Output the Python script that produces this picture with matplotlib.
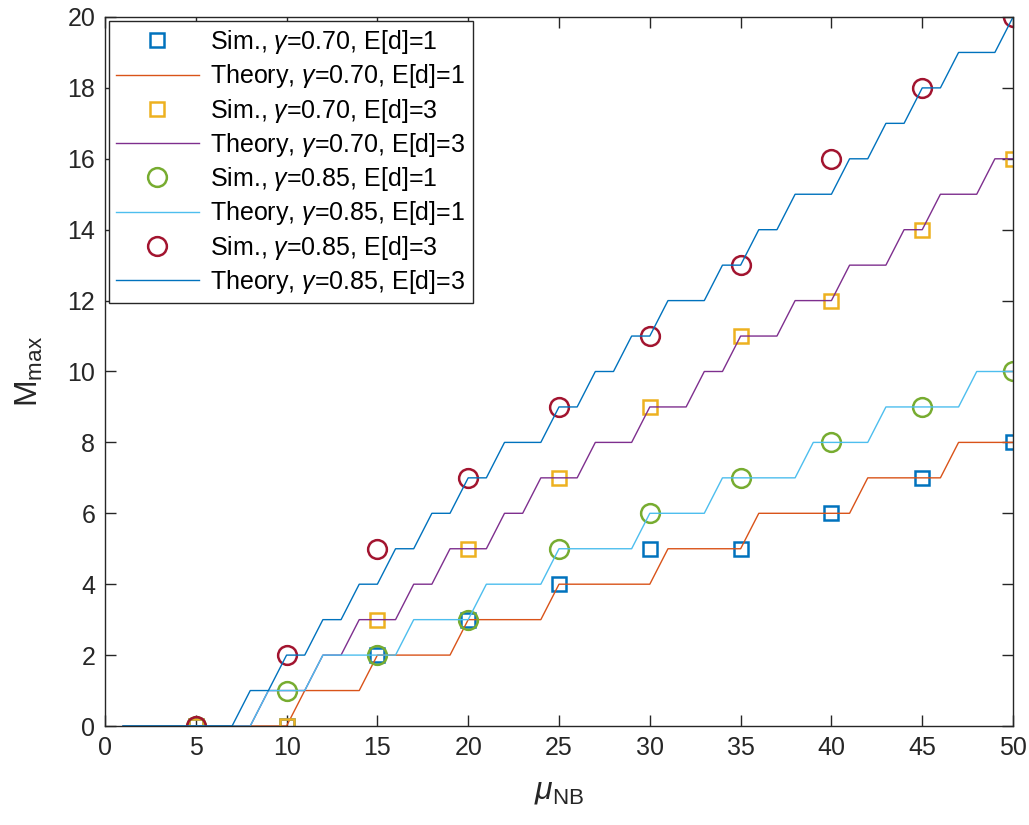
import numpy as np
import matplotlib
matplotlib.use("Agg")
import matplotlib.pyplot as plt

plt.rcParams['font.family'] = ['Liberation Sans', 'DejaVu Sans']
plt.rcParams['mathtext.fontset'] = 'custom'
plt.rcParams['mathtext.rm'] = 'Liberation Sans'
plt.rcParams['mathtext.it'] = 'Liberation Sans:italic'

# simulation points
mu_sim = [5, 10, 15, 20, 25, 30, 35, 40, 45, 50]
sim_070_1 = [0, 0, 2, 3, 4, 5, 5, 6, 7, 8]
sim_070_3 = [0, 0, 3, 5, 7, 9, 11, 12, 14, 16]
sim_085_1 = [0, 1, 2, 3, 5, 6, 7, 8, 9, 10]
sim_085_3 = [0, 2, 5, 7, 9, 11, 13, 16, 18, 20]

# theory curves, evaluated at mu = 1..50
mu_th = np.arange(1, 51)
th_070_1 = [0, 0, 0, 0, 0, 0, 0, 0, 0, 0,
            1, 1, 1, 1, 2, 2, 2, 2, 2, 3,
            3, 3, 3, 3, 4, 4, 4, 4, 4, 4,
            5, 5, 5, 5, 5, 6, 6, 6, 6, 6,
            6, 7, 7, 7, 7, 7, 8, 8, 8, 8]
th_070_3 = [0, 0, 0, 0, 0, 0, 0, 0, 1, 1,
            1, 2, 2, 3, 3, 3, 4, 4, 5, 5,
            5, 6, 6, 7, 7, 7, 8, 8, 8, 9,
            9, 9, 10, 10, 11, 11, 11, 12, 12, 12,
            13, 13, 13, 14, 14, 15, 15, 15, 16, 16]
th_085_1 = [0, 0, 0, 0, 0, 0, 0, 0, 1, 1,
            1, 2, 2, 2, 2, 2, 3, 3, 3, 3,
            4, 4, 4, 4, 5, 5, 5, 5, 5, 6,
            6, 6, 6, 7, 7, 7, 7, 7, 8, 8,
            8, 8, 9, 9, 9, 9, 9, 10, 10, 10]
th_085_3 = [0, 0, 0, 0, 0, 0, 0, 1, 1, 2,
            2, 3, 3, 4, 4, 5, 5, 6, 6, 7,
            7, 8, 8, 8, 9, 9, 10, 10, 11, 11,
            12, 12, 12, 13, 13, 14, 14, 15, 15, 15,
            16, 16, 17, 17, 18, 18, 19, 19, 19, 20]

fig = plt.figure(figsize=(10.29, 8.25), dpi=100)
ax = fig.add_axes([0.102, 0.12, 0.8825, 0.8594])

ms_sq, ms_ci, mew, lw = 10, 13.5, 1.8, 1.0
ax.plot(mu_sim, sim_070_1, 's', color='#0072BD', mfc='none', ms=ms_sq, mew=mew,
        label=r'Sim., $\gamma$=0.70, E[d]=1')
ax.plot(mu_th, th_070_1, '-', color='#D95319', lw=lw,
        label=r'Theory, $\gamma$=0.70, E[d]=1')
ax.plot(mu_sim, sim_070_3, 's', color='#EDB120', mfc='none', ms=ms_sq, mew=mew,
        label=r'Sim., $\gamma$=0.70, E[d]=3')
ax.plot(mu_th, th_070_3, '-', color='#7E2F8E', lw=lw,
        label=r'Theory, $\gamma$=0.70, E[d]=3')
ax.plot(mu_sim, sim_085_1, 'o', color='#77AC30', mfc='none', ms=ms_ci, mew=mew,
        label=r'Sim., $\gamma$=0.85, E[d]=1')
ax.plot(mu_th, th_085_1, '-', color='#4DBEEE', lw=lw,
        label=r'Theory, $\gamma$=0.85, E[d]=1')
ax.plot(mu_sim, sim_085_3, 'o', color='#A2142F', mfc='none', ms=ms_ci, mew=mew,
        label=r'Sim., $\gamma$=0.85, E[d]=3')
ax.plot(mu_th, th_085_3, '-', color='#0072BD', lw=lw,
        label=r'Theory, $\gamma$=0.85, E[d]=3')

ax.set_xlim(0, 50)
ax.set_ylim(0, 20)
ax.set_xticks(np.arange(0, 51, 5))
ax.set_yticks(np.arange(0, 21, 2))
ax.tick_params(direction='in', top=True, right=True, length=8, width=1,
               labelsize=18, colors='#262626', pad=7)
for s in ax.spines.values():
    s.set_color('#262626')
    s.set_linewidth(1.0)
ax.set_xlabel(r'$\mu_{\rm NB}$', fontsize=23, color='#262626', labelpad=12)
ax.set_ylabel(r'M$_{\rm max}$', fontsize=23, color='#262626', labelpad=16)

leg = ax.legend(loc='upper left', fontsize=18, handlelength=3.3, labelspacing=0.25,
                borderaxespad=0.15, fancybox=False, framealpha=1, edgecolor='#262626',
                borderpad=0.3, handletextpad=0.45)
leg.get_frame().set_linewidth(1.0)

fig.savefig('out.png', dpi=100)
